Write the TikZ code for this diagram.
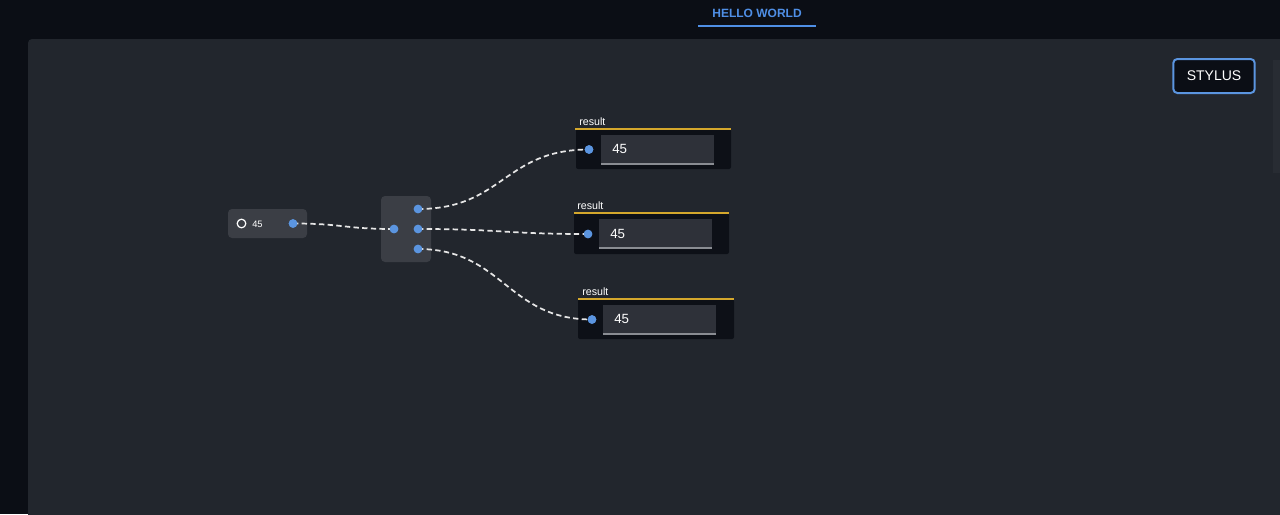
\documentclass[tikz,border=0pt]{standalone}
\usepackage{fontspec}
\setmainfont{Liberation Sans}
\usetikzlibrary{calc}
\definecolor{bgc}{HTML}{0B0E15}
\definecolor{canvasc}{HTML}{22262D}
\definecolor{nodec}{HTML}{3B3E45}
\definecolor{dotc}{HTML}{5B95E0}
\definecolor{boxc}{HTML}{0D1017}
\definecolor{yelc}{HTML}{D4A72C}
\definecolor{fieldc}{HTML}{2E3139}
\definecolor{fieldline}{HTML}{8A8D93}
\definecolor{bluetxt}{HTML}{4F8FE6}
\definecolor{wirec}{HTML}{E6E6E6}
\definecolor{scrollc}{HTML}{282C33}
\tikzset{
  dotnode/.style={circle,fill=dotc,inner sep=0pt,minimum size=6.4pt},
  wire/.style={draw=wirec,line width=1.3pt,dash pattern=on 4pt off 2.5pt},
  resbox/.style={fill=boxc,rounded corners=1.5pt},
  fieldbox/.style={fill=fieldc},
  restitle/.style={anchor=base west,inner sep=0pt,text=white,font=\fontsize{8}{9}\selectfont},
  resval/.style={anchor=west,inner sep=0pt,text=white,font=\fontsize{10}{12}\selectfont},
}
\begin{document}
\begin{tikzpicture}[x=0.75pt,y=-0.75pt]
\useasboundingbox (0,0) rectangle (1280,514);
\fill[bgc] (0,0) rectangle (1280,514);
% canvas
\fill[canvasc,rounded corners=3pt] (28,39) rectangle (1290,530);
\fill[scrollc] (1273,60) rectangle (1280,173);
% header
\node[text=bluetxt,font=\bfseries\fontsize{9}{10}\selectfont] (title) at (757,13) {HELLO WORLD};
\draw[bluetxt,line width=1pt] (698,26) -- (816,26);
% stylus button
\node[draw=dotc,line width=1.5pt,fill=bgc,rounded corners=3pt,minimum width=61pt,minimum height=25.5pt,text=white,font=\fontsize{10.5}{12}\selectfont] (stylus) at (1214,76) {STYLUS};
% input node
\fill[nodec,rounded corners=3pt] (228,209) rectangle (307,238);
\node[circle,draw=white,line width=0.9pt,inner sep=0pt,minimum size=6.5pt] (radio) at (241.5,223.5) {};
\node[anchor=west,inner sep=0pt,text=white,font=\fontsize{7}{8}\selectfont] (inval) at (252,224) {45};
\node[dotnode] (inout) at (293,223.5) {};
% mid node
\fill[nodec,rounded corners=3pt] (381,196) rectangle (431,262);
\node[dotnode] (midin) at (394,229) {};
\node[dotnode] (midA) at (418,209) {};
\node[dotnode] (midB) at (418,229) {};
\node[dotnode] (midC) at (418,249) {};
% result 1
\fill[resbox] (576,129) rectangle (731,169);
\draw[yelc,line width=2pt] (575,129) -- (731,129);
\node[restitle] (t1) at (579,125) {result};
\fill[fieldbox] (601,135) rectangle (714,164);
\draw[fieldline,line width=1pt] (601,164) -- (714,164);
\node[resval] (v1) at (612,149) {45};
\node[dotnode] (r1) at (589,149.5) {};
% result 2
\fill[resbox] (574,213) rectangle (729,254);
\draw[yelc,line width=2pt] (574,213) -- (729,213);
\node[restitle] (t2) at (577,209.5) {result};
\fill[fieldbox] (599,219) rectangle (712,248);
\draw[fieldline,line width=1pt] (599,248) -- (712,248);
\node[resval] (v2) at (610,233.5) {45};
\node[dotnode] (r2) at (588,234) {};
% result 3
\fill[resbox] (578,299) rectangle (734,339);
\draw[yelc,line width=2pt] (578,299) -- (734,299);
\node[restitle] (t3) at (582,295) {result};
\fill[fieldbox] (603,305) rectangle (716,334);
\draw[fieldline,line width=1pt] (603,334) -- (716,334);
\node[resval] (v3) at (614,319) {45};
\node[dotnode] (r3) at (592,319.5) {};
% wires
\path[wire] (inout.center) .. controls +(50,0) and +(-50,0) .. (midin.center);
\path[wire] (midA.center) .. controls +(85,0) and +(-85,0) .. (r1.center);
\path[wire] (midB.center) .. controls +(85,0) and +(-85,0) .. (r2.center);
\path[wire] (midC.center) .. controls +(85,0) and +(-85,0) .. (r3.center);
% redraw dots on top
\fill[dotc] (inout) circle (3.2pt) (midin) circle (3.2pt) (midA) circle (3.2pt) (midB) circle (3.2pt) (midC) circle (3.2pt) (r1) circle (3.2pt) (r2) circle (3.2pt) (r3) circle (3.2pt);
\end{tikzpicture}
\end{document}
